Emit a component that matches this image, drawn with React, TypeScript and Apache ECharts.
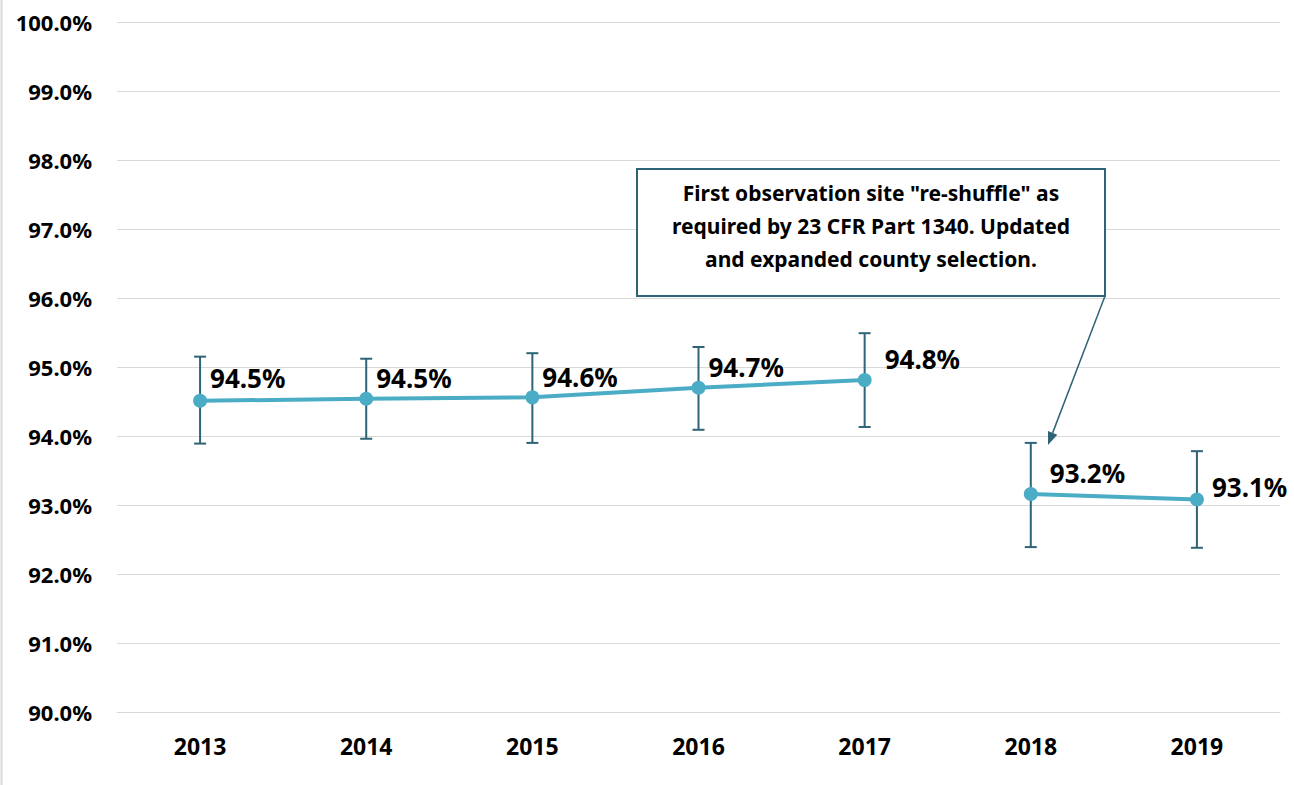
import React, { useEffect, useRef } from "react";
import * as echarts from "echarts";

const years = ["2013", "2014", "2015", "2016", "2017", "2018", "2019"];
const values = [94.51, 94.54, 94.56, 94.7, 94.81, 93.16, 93.08];
const lower = [93.89, 93.96, 93.9, 94.09, 94.13, 92.39, 92.38];
const upper = [95.15, 95.12, 95.2, 95.29, 95.49, 93.9, 93.78];
const firstPeriodEnd = 4; // index of last point before the site re-shuffle
const annotationLines = [
  'First observation site "re-shuffle" as',
  "required by 23 CFR Part 1340. Updated",
  "and expanded county selection.",
];
const labelDistance = [3, 3, 3, 3, 13, 12, 8];
const labelLift = [-23, -21, -20, -21, -21, -21, -12];

const LINE = "#4bacc6";
const ERR = "#2f6477";
const FONT = "'Noto Sans', 'Open Sans', sans-serif";

export default function App() {
  const ref = useRef<HTMLDivElement>(null);
  useEffect(() => {
    if (!ref.current) return;
    const chart = echarts.init(ref.current, undefined, { renderer: "svg" });
    const mkData = (from: number, to: number) =>
      values.map((v, i) =>
        i >= from && i <= to
          ? {
              value: v,
              label: {
                distance: labelDistance[i],
                offset: [0, labelLift[i]],
              },
            }
          : "-"
      );
    const seriesStyle = {
      type: "line" as const,
      symbol: "circle",
      symbolSize: 14,
      z: 5,
      itemStyle: { color: LINE },
      lineStyle: { color: LINE, width: 4 },
      label: {
        show: true,
        position: "right",
        color: "#000",
        fontFamily: FONT,
        fontWeight: "bold",
        fontSize: 26,
        formatter: (p: any) => Number(p.value).toFixed(1) + "%",
      },
    };
    // arrow geometry
    const ax1 = 1105, ay1 = 296, ax2 = 1048, ay2 = 445;
    const dx = ax2 - ax1, dy = ay2 - ay1;
    const len = Math.sqrt(dx * dx + dy * dy);
    const ux = dx / len, uy = dy / len;
    const bx = ax2 - 13 * ux, by = ay2 - 13 * uy;
    const px = -uy, py = ux;
    chart.setOption({
      animation: false,
      backgroundColor: "#fff",
      grid: { left: 117, right: 14, top: 22, bottom: 73 },
      xAxis: {
        type: "category",
        data: years,
        boundaryGap: true,
        axisLine: { show: true, lineStyle: { color: "#d9d9d9" } },
        axisTick: { show: false },
        axisLabel: {
          color: "#000",
          fontFamily: FONT,
          fontWeight: "bold",
          fontSize: 23,
          margin: 22,
        },
      },
      yAxis: {
        type: "value",
        min: 90,
        max: 100,
        interval: 1,
        axisLine: { show: false },
        axisTick: { show: false },
        splitLine: { lineStyle: { color: "#d9d9d9", width: 1 } },
        axisLabel: {
          color: "#000",
          fontFamily: FONT,
          fontWeight: "bold",
          fontSize: 22,
          margin: 25,
          formatter: (v: number) => v.toFixed(1) + "%",
        },
      },
      series: [
        {
          type: "custom",
          z: 2,
          data: years.map((_, i) => [i, lower[i], upper[i]]),
          renderItem: (params: any, api: any) => {
            const x = api.value(0);
            const lo = api.coord([x, api.value(1)]);
            const hi = api.coord([x, api.value(2)]);
            const hw = 6;
            const style = { stroke: ERR, lineWidth: 2 };
            return {
              type: "group",
              children: [
                { type: "line", shape: { x1: lo[0], y1: lo[1], x2: hi[0], y2: hi[1] }, style },
                { type: "line", shape: { x1: lo[0] - hw, y1: lo[1], x2: lo[0] + hw, y2: lo[1] }, style },
                { type: "line", shape: { x1: hi[0] - hw, y1: hi[1], x2: hi[0] + hw, y2: hi[1] }, style },
              ],
            };
          },
        },
        { ...seriesStyle, data: mkData(0, firstPeriodEnd) },
        { ...seriesStyle, data: mkData(firstPeriodEnd + 1, values.length - 1) },
      ],
      graphic: [
        {
          type: "line",
          shape: { x1: 1.5, y1: 0, x2: 1.5, y2: 785 },
          style: { stroke: "#d9d9d9", lineWidth: 2 },
        },
        {
          type: "rect",
          shape: { x: 637, y: 169, width: 468, height: 127 },
          style: { fill: "#fff", stroke: ERR, lineWidth: 2 },
          z: 10,
        },
        {
          type: "text",
          x: 871,
          y: 226,
          z: 11,
          style: {
            text: annotationLines.join("\n"),
            fill: "#000",
            font: `bold 21px ${FONT}`,
            lineHeight: 33,
            align: "center",
            verticalAlign: "middle",
          },
        },
        {
          type: "line",
          z: 10,
          shape: { x1: ax1, y1: ay1, x2: bx, y2: by },
          style: { stroke: ERR, lineWidth: 1.5 },
        },
        {
          type: "polygon",
          z: 10,
          shape: {
            points: [
              [ax2, ay2],
              [bx + 5 * px, by + 5 * py],
              [bx - 5 * px, by - 5 * py],
            ],
          },
          style: { fill: ERR },
        },
      ],
    });
    return () => chart.dispose();
  }, []);
  return (
    <div
      ref={ref}
      style={{ position: "fixed", left: 0, top: 0, width: 1294, height: 785 }}
    />
  );
}
